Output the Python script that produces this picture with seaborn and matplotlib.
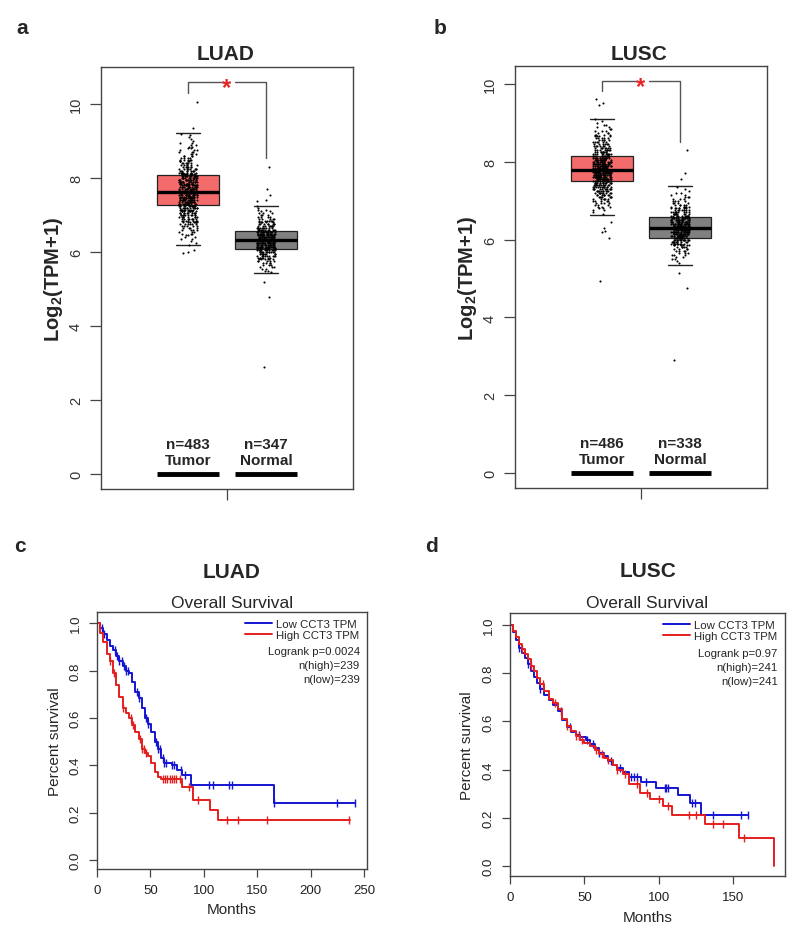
import numpy as np
import pandas as pd
import matplotlib
matplotlib.use("Agg")
import matplotlib.pyplot as plt
from matplotlib.lines import Line2D
import seaborn as sns

sns.set_style("ticks")
plt.rcParams["font.family"] = ["Liberation Sans", "DejaVu Sans"]
plt.rcParams["mathtext.fontset"] = "custom"
plt.rcParams["mathtext.bf"] = "Liberation Sans:bold"
plt.rcParams["mathtext.rm"] = "Liberation Sans"
plt.rcParams["mathtext.default"] = "bf"

# ---------------- expression (box + jitter) data ----------------
groups = ["Tumor", "Normal"]
bin_step = 0.05

# counts of points per 0.05 bin
luad_tumor_start = 6.20
luad_tumor_counts = [1, 1, 1, 2, 2, 2, 3, 3, 4, 4, 5, 6, 7, 7, 8, 9, 10, 10, 11, 11, 12, 14,
                     16, 16, 16, 16, 16, 16, 16,
                     16, 16, 15, 15, 14, 14, 13, 13, 12,
                     11, 10, 9, 8, 7, 6, 6, 5, 5, 4, 4, 3, 3, 3, 2, 2, 2, 2, 1, 1, 1, 1, 1]
luad_tumor_out = [10.05, 9.35, 6.05, 6.0, 5.98]

luad_normal_start = 5.45
luad_normal_counts = [1, 2, 2, 3, 3, 4, 5, 6, 7, 9, 10, 12, 14,
                      17, 18, 19, 19, 19,
                      19, 18, 17, 16, 15,
                      13, 11, 9, 8, 7, 6, 5, 4, 3, 3, 2, 2, 1, 1]
luad_normal_out = [8.3, 7.7, 7.55, 7.4, 7.38, 5.2, 4.8, 2.9]

lusc_tumor_start = 6.65
lusc_tumor_counts = [1, 1, 2, 2, 3, 3, 4, 5, 6, 7, 8, 9, 10, 11, 12, 13, 14, 20,
                     21, 21, 21, 21, 21,
                     21, 20, 19, 18, 17, 16, 14, 12,
                     11, 10, 9, 8, 7, 6, 6, 5, 5, 4, 4, 3, 3, 2, 2, 2, 1, 1, 1]
lusc_tumor_out = [9.6, 9.5, 9.45, 6.45, 6.3, 6.22, 6.2, 6.05, 4.95]

lusc_normal_start = 5.40
lusc_normal_counts = [1, 1, 2, 2, 3, 3, 4, 4, 5, 7, 9, 11, 13, 15,
                      17, 18, 18, 18, 18,
                      18, 17, 16, 15, 14,
                      12, 10, 9, 8, 7, 6, 5, 4, 4, 3, 3, 2, 2, 1, 1, 1]
lusc_normal_out = [8.3, 7.7, 7.55, 5.15, 4.75, 2.9]

# box stats: whislo, q1, median, q3, whishi
luad_box = {"Tumor": (6.19, 7.27, 7.62, 8.08, 9.22), "Normal": (5.43, 6.08, 6.32, 6.57, 7.24)}
lusc_box = {"Tumor": (6.62, 7.51, 7.80, 8.15, 9.10), "Normal": (5.36, 6.05, 6.31, 6.59, 7.38)}
luad_n = [483, 347]
lusc_n = [486, 338]

# ---------------- survival data ----------------
luad_low_t = [0, 3, 6, 9, 12, 15, 18, 21, 24, 27, 30, 33, 36, 39, 42, 45, 48, 51, 54, 57,
              60, 63, 70, 75, 80, 88, 166, 242]
luad_low_s = [1.0, 0.98, 0.955, 0.93, 0.905, 0.885, 0.86, 0.84, 0.82, 0.80, 0.79, 0.75,
              0.71, 0.685, 0.64, 0.60, 0.575, 0.54, 0.50, 0.47, 0.43, 0.41, 0.40, 0.38,
              0.36, 0.315, 0.24, 0.24]
luad_low_cens = [5, 7, 17, 19, 21, 23, 25, 27, 29, 37, 39, 46, 48, 55, 57, 59, 62, 63, 65,
                 70, 72, 79, 82, 105, 109, 124, 126, 166, 225, 242]

luad_high_t = [0, 3, 6, 9, 12, 15, 18, 21, 24, 27, 30, 33, 36, 39, 42, 45, 48, 51, 54, 57,
               60, 80, 90, 106, 113, 237]
luad_high_s = [1.0, 0.96, 0.92, 0.87, 0.84, 0.79, 0.74, 0.69, 0.64, 0.62, 0.60, 0.57, 0.54,
               0.51, 0.47, 0.45, 0.44, 0.41, 0.37, 0.35, 0.34, 0.31, 0.255, 0.21, 0.17, 0.17]
luad_high_cens = [12, 16, 24, 32, 34, 40, 42, 44, 46, 62, 64, 66, 68, 70, 72, 74, 78, 86,
                  95, 122, 132, 159, 236]

lusc_low_t = [0, 2, 4, 6, 8, 10, 12, 14, 16, 18, 20, 23, 26, 29, 32, 35, 38, 41, 44, 47, 51,
              54, 57, 60, 63, 66, 69, 72, 76, 80, 88, 98, 113, 121, 128, 160]
lusc_low_s = [1.0, 0.97, 0.94, 0.905, 0.885, 0.865, 0.84, 0.81, 0.785, 0.76, 0.735, 0.71,
              0.69, 0.67, 0.645, 0.605, 0.575, 0.555, 0.545, 0.535, 0.525, 0.505, 0.49, 0.47,
              0.455, 0.435, 0.42, 0.405, 0.39, 0.37, 0.35, 0.325, 0.295, 0.26, 0.21, 0.21]
lusc_low_cens = [6, 12, 20, 34, 40, 46, 52, 56, 60, 68, 74, 81, 83, 85, 91, 104, 105, 106,
                 122, 124, 136, 155, 160]

lusc_high_t = [0, 2, 4, 6, 8, 10, 12, 14, 16, 18, 20, 23, 26, 29, 32, 35, 38, 41, 44, 47, 50,
               54, 57, 60, 63, 66, 69, 72, 76, 80, 87, 94, 103, 109, 131, 154, 177]
lusc_high_s = [1.0, 0.975, 0.95, 0.92, 0.90, 0.88, 0.86, 0.83, 0.81, 0.78, 0.755, 0.725,
               0.695, 0.675, 0.65, 0.61, 0.58, 0.56, 0.54, 0.525, 0.51, 0.50, 0.48, 0.465,
               0.45, 0.44, 0.42, 0.40, 0.38, 0.34, 0.305, 0.28, 0.25, 0.21, 0.175, 0.115, 0.0]
lusc_high_cens = [8, 14, 22, 30, 38, 44, 46, 48, 58, 62, 66, 72, 77, 85, 92, 100, 106, 120,
                  125, 136, 143, 157]

TUMOR_COL = "#F46B6B"
NORMAL_COL = "#808080"
LOW_COL = "#1414D2"
HIGH_COL = "#E51E1E"
STAR_COL = "#E52424"
EDGE = "#444444"


def expand(start, counts, outliers):
    centers = start + bin_step * np.arange(len(counts))
    return np.concatenate([np.repeat(np.round(centers, 2), counts), outliers])


def box_panel(ax, vals, boxes, ns, ylim, bracket):
    df = pd.DataFrame({
        "group": np.concatenate([[g] * len(vals[g]) for g in groups]),
        "value": np.concatenate([vals[g] for g in groups]),
    })
    stats = []
    for g in groups:
        lo, q1, med, q3, hi = boxes[g]
        stats.append(dict(whislo=lo, q1=q1, med=med, q3=q3, whishi=hi, fliers=[]))
    bp = ax.bxp(stats, positions=[0, 1], widths=0.8, patch_artist=True, showfliers=False,
                boxprops=dict(edgecolor="#222222", linewidth=0.9),
                medianprops=dict(color="black", linewidth=2.4),
                whiskerprops=dict(linewidth=0),
                capprops=dict(color="#222222", linewidth=1.0),
                capwidths=0.3, zorder=1)
    for patch, col in zip(bp["boxes"], [TUMOR_COL, NORMAL_COL]):
        patch.set_facecolor(col)
    sns.stripplot(data=df, x="group", y="value", order=groups, jitter=0.12, size=1.5,
                  color="black", linewidth=0, ax=ax, zorder=2)

    for pos, g, n in zip([0, 1], groups, ns):
        ax.hlines(0, pos - 0.4, pos + 0.4, color="black", linewidth=3.5)
        ax.annotate(f"n={n}", xy=(pos, 0), xytext=(0, 22), textcoords="offset points",
                    ha="center", va="center", fontsize=11, fontweight="bold")
        ax.annotate(g, xy=(pos, 0), xytext=(0, 10), textcoords="offset points",
                    ha="center", va="center", fontsize=11, fontweight="bold")

    yl, yh, yr = bracket
    ax.plot([0.44, 0, 0], [yh, yh, yl], color="#555555", lw=1)
    ax.plot([0.60, 1, 1], [yh, yh, yr], color="#555555", lw=1)
    ax.text(0.5, yh - 0.15, "*", color=STAR_COL, fontsize=17, fontweight="bold",
            ha="center", va="center")

    ax.set_xlim(-1.115, 2.115)
    ax.set_ylim(*ylim)
    ax.set_xticks([0.5])
    ax.set_xticklabels([""])
    ax.set_xlabel("")
    ax.set_yticks([0, 2, 4, 6, 8, 10])
    ax.set_yticklabels(["0", "2", "4", "6", "8", "10"])
    ax.tick_params(axis="both", length=8, width=0.9, color=EDGE, labelcolor="#333333",
                   labelsize=10.5, pad=5)
    ax.tick_params(axis="y", labelrotation=90)
    for lab in ax.get_yticklabels():
        lab.set_va("center")
    ax.set_ylabel("Log$_2$(TPM+1)", fontsize=14.5, fontweight="bold", va="center")
    ax.yaxis.set_label_coords(-0.19, 0.5)
    for sp in ax.spines.values():
        sp.set_visible(True)
        sp.set_color(EDGE)
        sp.set_linewidth(1.0)


def step_value(t, s, x):
    idx = np.searchsorted(np.asarray(t), x, side="right") - 1
    return np.asarray(s)[idx]


def km_panel(ax, curves, texts, xlim, ylim, xticks):
    for t, s, cens, col in curves:
        sns.lineplot(x=t, y=s, drawstyle="steps-post", estimator=None, sort=False,
                     color=col, linewidth=1.4, ax=ax)
        ax.plot(cens, step_value(t, s, cens), linestyle="none", marker="|",
                markersize=6, markeredgewidth=1.0, color=col)
    handles = [Line2D([], [], color=LOW_COL, lw=1.4), Line2D([], [], color=HIGH_COL, lw=1.4)]
    ax.legend(handles, ["Low CCT3 TPM", "High CCT3 TPM"], loc="upper right",
              bbox_to_anchor=(1.0, 1.0), frameon=False, fontsize=8.2, handlelength=2.4,
              handletextpad=0.35, labelspacing=0.05, borderaxespad=0.25)
    for txt, yy in zip(texts, [0.848, 0.793, 0.740]):
        ax.text(0.974, yy, txt, transform=ax.transAxes, ha="right", va="center", fontsize=8.2)
    ax.set_xlim(*xlim)
    ax.set_ylim(*ylim)
    ax.set_xticks(xticks)
    ax.set_yticks([0.0, 0.2, 0.4, 0.6, 0.8, 1.0])
    ax.set_yticklabels(["0.0", "0.2", "0.4", "0.6", "0.8", "1.0"])
    ax.tick_params(axis="both", length=6, width=0.9, color=EDGE, labelcolor="#222222",
                   labelsize=9.5, pad=5)
    ax.tick_params(axis="y", labelrotation=90)
    for lab in ax.get_yticklabels():
        lab.set_va("center")
    ax.set_xlabel("Months", fontsize=11, va="center")
    ax.xaxis.set_label_coords(0.5, -0.155)
    ax.set_ylabel("Percent survival", fontsize=11, va="center")
    ax.yaxis.set_label_coords(-0.155, 0.5)
    for sp in ax.spines.values():
        sp.set_visible(True)
        sp.set_color(EDGE)
        sp.set_linewidth(1.0)


fig = plt.figure(figsize=(8, 9.37), dpi=100)
W, H = 800, 937


def add_ax(x0, y0, x1, y1):
    return fig.add_axes([x0 / W, 1 - y1 / H, (x1 - x0) / W, (y1 - y0) / H])


ax_a = add_ax(101, 68, 353, 490)
ax_b = add_ax(515, 67, 767, 489)
ax_c = add_ax(97, 613, 367, 870)
ax_d = add_ax(510, 614, 785, 877)

luad_vals = {"Tumor": expand(luad_tumor_start, luad_tumor_counts, luad_tumor_out),
             "Normal": expand(luad_normal_start, luad_normal_counts, luad_normal_out)}
lusc_vals = {"Tumor": expand(lusc_tumor_start, lusc_tumor_counts, lusc_tumor_out),
             "Normal": expand(lusc_normal_start, lusc_normal_counts, lusc_normal_out)}

box_panel(ax_a, luad_vals, luad_box, luad_n, (-0.4, 11.0), (10.3, 10.6, 8.55))
box_panel(ax_b, lusc_vals, lusc_box, lusc_n, (-0.38, 10.46), (9.82, 10.08, 8.51))

km_panel(ax_c, [(luad_low_t, luad_low_s, luad_low_cens, LOW_COL),
                (luad_high_t, luad_high_s, luad_high_cens, HIGH_COL)],
         ["Logrank p=0.0024", "n(high)=239", "n(low)=239"],
         (0, 252.8), (-0.038, 1.047), [0, 50, 100, 150, 200, 250])
km_panel(ax_d, [(lusc_low_t, lusc_low_s, lusc_low_cens, LOW_COL),
                (lusc_high_t, lusc_high_s, lusc_high_cens, HIGH_COL)],
         ["Logrank p=0.97", "n(high)=241", "n(low)=241"],
         (0, 184.6), (-0.0415, 1.05), [0, 50, 100, 150])

# titles and panel letters
fig.text(226 / W, 1 - 55 / H, "LUAD", ha="center", va="center", fontsize=15, fontweight="bold")
fig.text(639 / W, 1 - 55 / H, "LUSC", ha="center", va="center", fontsize=15, fontweight="bold")
fig.text(232 / W, 1 - 573 / H, "LUAD", ha="center", va="center", fontsize=15, fontweight="bold")
fig.text(648 / W, 1 - 572 / H, "LUSC", ha="center", va="center", fontsize=15, fontweight="bold")
fig.text(232 / W, 1 - 603 / H, "Overall Survival", ha="center", va="center", fontsize=12.5)
fig.text(647 / W, 1 - 604 / H, "Overall Survival", ha="center", va="center", fontsize=12.5)
for letter, x, y in [("a", 22, 29), ("b", 440, 29), ("c", 20, 547), ("d", 432, 547)]:
    fig.text(x / W, 1 - y / H, letter, ha="center", va="center", fontsize=15, fontweight="bold")

fig.savefig("out.png", dpi=100, facecolor="white")
